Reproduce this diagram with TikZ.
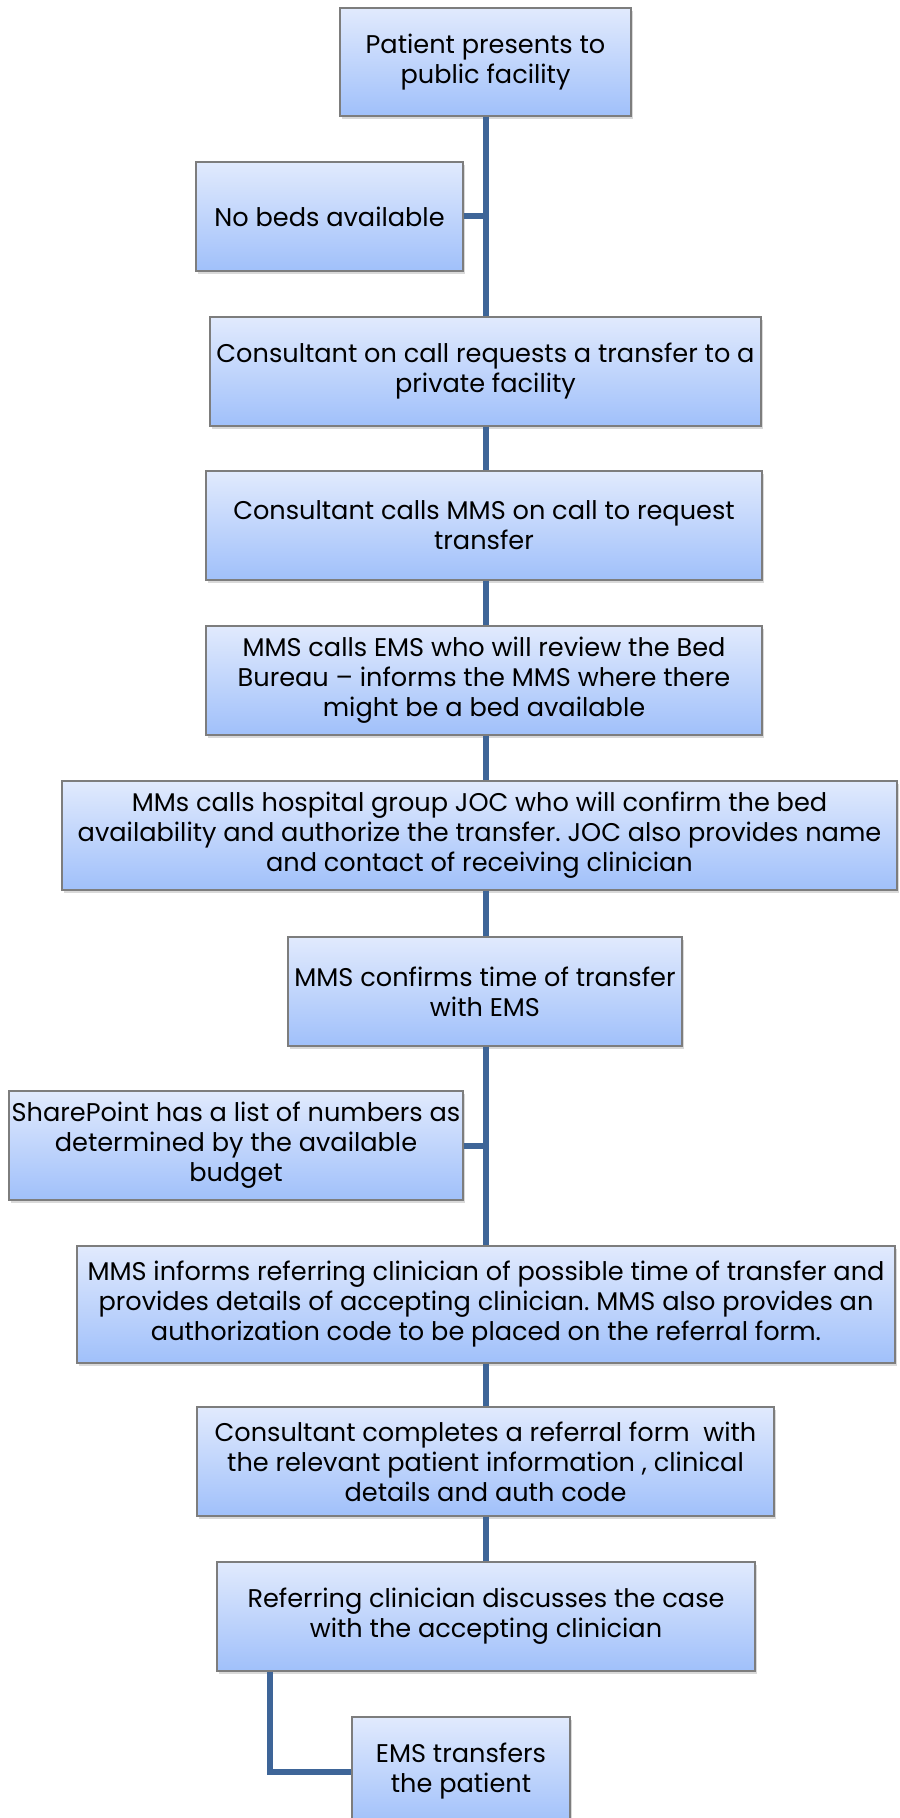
\documentclass[tikz,border=0pt]{standalone}
\usepackage{fontspec}
\setmainfont{Poppins}
\usetikzlibrary{calc}
\usetikzlibrary{shadows}
\frenchspacing

\definecolor{boxtop}{RGB}{225,234,253}
\definecolor{boxbottom}{RGB}{160,192,250}
\definecolor{boxline}{RGB}{125,125,125}
\definecolor{trunk}{RGB}{62,101,152}

\begin{document}
\begin{tikzpicture}[x=0.5pt, y=-0.5pt,
	stepbox/.style={rectangle, draw=boxline, line width=0.6pt, top color=boxtop, bottom color=boxbottom,
		align=center, inner sep=0pt, font=\fontsize{12.8}{15}\selectfont,
		drop shadow={opacity=0.3, shadow xshift=1pt, shadow yshift=-1.5pt}},
	link/.style={draw=trunk, line width=3pt}]
	% Page frame of the figure
	\useasboundingbox (0,0) rectangle (899,1818);

	% Boxes of the flow, from top to bottom
	\node[stepbox, minimum width=145.5pt, minimum height=54pt] (patient) at (485.5,62) {Patient presents to\\public facility};
	\node[stepbox, minimum width=133.5pt, minimum height=54.5pt] (nobeds) at (329.5,216.5) {No beds available};
	\node[stepbox, minimum width=275.5pt, minimum height=54.5pt] (request) at (485.5,371.5) {Consultant on call requests a transfer to a\\private facility};
	\node[stepbox, minimum width=278pt, minimum height=54.5pt] (calls) at (484,525.5) {Consultant calls MMS on call to request\\transfer};
	\node[stepbox, minimum width=278pt, minimum height=54.5pt] (bureau) at (484,680.5) {MMS calls EMS who will review the Bed\\Bureau -- informs the MMS where there\\might be a bed available};
	\node[stepbox, minimum width=417.5pt, minimum height=54.5pt] (joc) at (479.5,835.5) {MMs calls hospital group JOC who will confirm the bed\\availability and authorize the transfer. JOC also provides name\\and contact of receiving clinician};
	\node[stepbox, minimum width=197pt, minimum height=54.5pt] (confirm) at (485,991.5) {MMS confirms time of transfer\\with EMS};
	\node[stepbox, minimum width=227pt, minimum height=54.5pt] (sharepoint) at (236,1145.5) {SharePoint has a list of numbers as\\determined by the available\\budget};
	\node[stepbox, minimum width=409pt, minimum height=58.5pt] (informs) at (486,1304.5) {MMS informs referring clinician of possible time of transfer and\\provides details of accepting clinician. MMS also provides an\\authorization code to be placed on the referral form.};
	\node[stepbox, minimum width=288.5pt, minimum height=54.5pt] (completes) at (485.5,1461.5) {Consultant completes a referral form\ \ with\\the relevant patient information , clinical\\details and auth code};
	\node[stepbox, minimum width=269pt, minimum height=54.5pt] (referring) at (486,1616.5) {Referring clinician discusses the case\\with the accepting clinician};
	\node[stepbox, minimum width=109pt, minimum height=54.5pt] (ems) at (461,1771.5) {EMS transfers\\the patient};

	% Trunk and side branches
	\draw[link] (patient.south) -- (request.north);
	\draw[link] (nobeds.east) -- (nobeds.east -| patient.south);
	\draw[link] (request.south) -- (request.south |- calls.north);
	\draw[link] (request.south |- calls.south) -- (request.south |- bureau.north);
	\draw[link] (request.south |- bureau.south) -- (request.south |- joc.north);
	\draw[link] (request.south |- joc.south) -- (request.south |- confirm.north);
	\draw[link] (request.south |- confirm.south) -- (request.south |- informs.north);
	\draw[link] (sharepoint.east) -- (sharepoint.east -| request.south);
	\draw[link] (request.south |- informs.south) -- (request.south |- completes.north);
	\draw[link] (request.south |- completes.south) -- (request.south |- referring.north);

	% Elbow down to the last box
	\coordinate (reflow) at ($(referring.south west)+(54,0)$);
	\draw[link] (reflow) |- (ems.west);
\end{tikzpicture}
\end{document}
